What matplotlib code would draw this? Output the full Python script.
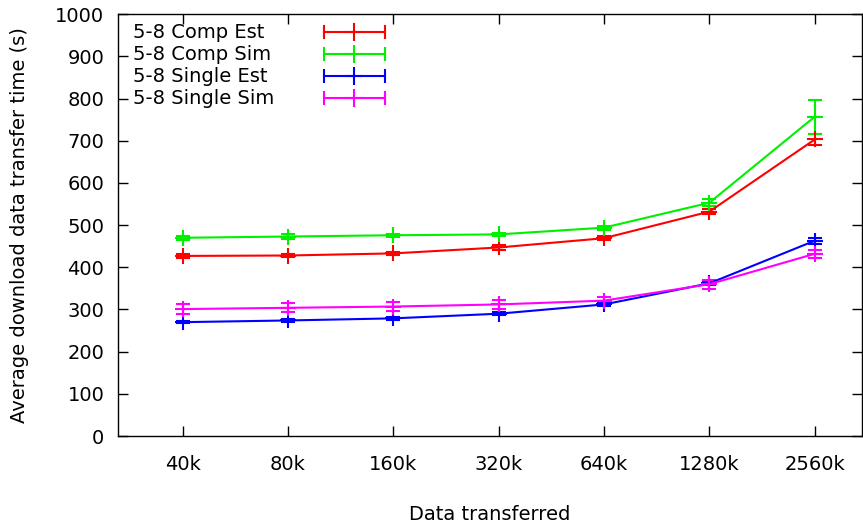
import matplotlib
matplotlib.use("Agg")
import matplotlib.pyplot as plt

# categories on the x axis
sizes = ["40k", "80k", "160k", "320k", "640k", "1280k", "2560k"]

# average download times (s) and error half-widths
comp_est = [427, 428, 433, 447, 469, 532, 703]
comp_est_err = [4, 4, 4, 5, 5, 6, 12]
comp_sim = [470, 473, 476, 478, 494, 553, 757]
comp_sim_err = [5, 5, 4, 4, 5, 8, 40]
single_est = [270, 274, 279, 290, 312, 362, 463]
single_est_err = [3, 3, 3, 3, 4, 5, 7]
single_sim = [301, 304, 307, 312, 321, 360, 432]
single_sim_err = [11, 11, 11, 10, 9, 11, 9]

labels = ["5-8 Comp Est", "5-8 Comp Sim", "5-8 Single Est", "5-8 Single Sim"]
colors = ["#ff0000", "#00f000", "#0000ff", "#ff00ff"]

plt.rcParams["font.family"] = ["DejaVu Sans"]
fig = plt.figure(figsize=(8.63, 5.26), dpi=100)
ax = fig.add_axes([0.137, 0.171, 0.862, 0.802])

x = list(range(len(sizes)))
series = [(comp_est, comp_est_err), (comp_sim, comp_sim_err),
          (single_est, single_est_err), (single_sim, single_sim_err)]
for (vals, errs), c in zip(series, colors):
    ax.errorbar(x, vals, yerr=errs, color=c, lw=1.5, marker="+", ms=12,
                mew=1.5, capsize=5, elinewidth=1.5, capthick=1.5)

# gnuplot-style key: text on the left, sample on the right
for i, (lab, c) in enumerate(zip(labels, colors)):
    yk = 0.957 - i * 0.052
    ax.text(0.02, yk, lab, transform=ax.transAxes, fontsize=14,
            va="center", ha="left")
    ax.plot([0.276, 0.359], [yk, yk], color=c, lw=1.5,
            transform=ax.transAxes, clip_on=False)
    for xe in (0.276, 0.359):
        ax.plot([xe, xe], [yk - 0.014, yk + 0.014], color=c, lw=1.5,
                transform=ax.transAxes)
    ax.plot([0.3175], [yk], marker="+", ms=13, mew=1.5, color=c,
            transform=ax.transAxes)

ax.set_xlim(-0.61, 6.45)
ax.set_ylim(0, 1000)
ax.set_xticks(x)
ax.set_xticklabels(sizes)
ax.set_yticks(range(0, 1001, 100))
ax.tick_params(direction="in", length=7, width=1, labelsize=14,
               top=True, right=True)
ax.tick_params(axis="x", pad=14)
ax.tick_params(axis="y", pad=10)
for s in ax.spines.values():
    s.set_linewidth(1)

ax.set_xlabel("Data transferred", fontsize=14, labelpad=22)
ax.set_ylabel("Average download data transfer time (s)", fontsize=14,
              labelpad=19)

fig.savefig("out.png", dpi=100)
